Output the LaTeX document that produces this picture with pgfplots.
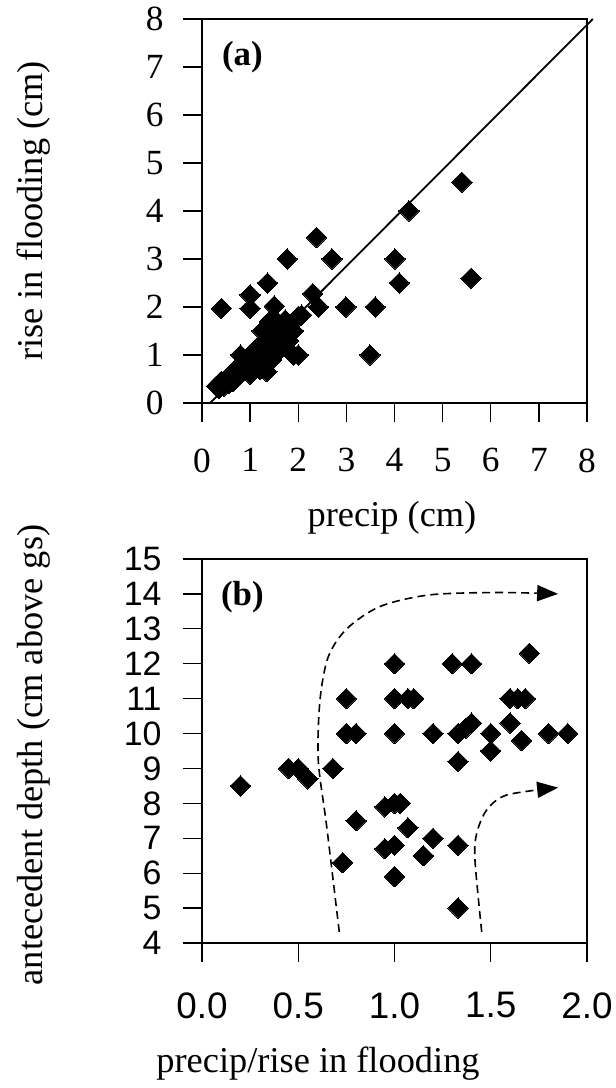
\documentclass[border=0pt]{standalone}
\usepackage{fontspec}
\setmainfont{Liberation Serif}
\newfontfamily\sansf{Liberation Sans}
\usepackage{pgfplots}
\pgfplotsset{compat=1.18}
\usetikzlibrary{arrows.meta}

\pgfplotsset{
  panel/.style={
    scale only axis, width=385bp, height=384bp,
    anchor=south west,
    axis line style={line width=2.4bp},
    tick style={line width=1.3bp, black},
    tick align=outside,
    major tick length=19bp,
    xtick pos=left, ytick pos=left,
    /pgf/number format/assume math mode=true,
    clip=false,
  },
  dmd/.style={only marks, mark=square*,
    mark options={rotate=45, fill=black, draw=black, line width=0pt}, mark size=7.2bp},
}

\begin{document}
\begin{tikzpicture}
\path[use as bounding box] (0,0) rectangle (616bp,1088bp);

% (a) rise in flooding vs precip
\begin{axis}[panel, at={(202bp,685bp)},
  xmin=0, xmax=8, ymin=0, ymax=8,
  xtick={0,...,8}, ytick={0,...,8},
  ticklabel style={font=\fontsize{35.5}{42}\selectfont},
  xticklabel style={yshift=-23bp},
  yticklabel style={xshift=-16bp},
]
\addplot[dmd] coordinates {
  (5.40,4.60) (4.30,4.0) (2.38,3.45) (1.77,3.0) (2.70,3.0) (4.01,3.0)
  (5.59,2.6) (4.10,2.5) (1.36,2.5) (1.0,2.25) (2.30,2.28) (0.40,1.97)
  (1.0,1.97) (1.50,2.02) (2.42,2.0) (2.99,2.0) (3.60,2.0) (3.49,1.0)
  (2.07,1.83) (1.73,1.73) (1.4,1.7) (2.0,1.0) (1.9,1.0)
  (0.3,0.35) (0.35,0.3) (0.4,0.45) (0.45,0.35) (0.5,0.5) (0.55,0.4)
  (0.6,0.6) (0.7,0.55) (0.75,0.7) (0.8,0.6) (0.8,0.8) (0.8,1.0)
  (0.9,0.7) (0.9,0.9) (1.0,0.6) (1.0,0.8) (1.0,1.0) (1.1,0.9)
  (1.1,1.1) (1.2,0.7) (1.2,1.0) (1.2,1.2) (1.3,0.8) (1.3,1.0)
  (1.3,1.3) (1.35,0.65) (1.4,1.1) (1.4,1.4) (1.5,1.0) (1.5,1.2)
  (1.5,1.5) (1.55,1.7) (1.6,1.1) (1.6,1.3) (1.7,1.2) (1.7,1.5)
  (1.8,1.3) (1.9,1.5) (2.0,1.8) (1.45,0.9) (1.1,0.7) (0.65,0.45)
  (1.25,1.5)
};
\addplot[no marks, line width=1.8bp] coordinates {(0.17,0) (8.12,8)};
\node[font=\fontsize{35}{42}\selectfont\bfseries] at (rel axis cs:0.105,0.9) {(a)};
\end{axis}

% (b) antecedent depth vs precip/rise
\begin{axis}[panel, at={(202bp,145bp)},
  xmin=0, xmax=2, ymin=4, ymax=15,
  xtick={0,0.5,...,2}, ytick={4,...,15},
  xticklabel style={font=\sansf\fontsize{37}{44}\selectfont, yshift=-27bp,
    /pgf/number format/.cd, fixed, fixed zerofill, precision=1},
  yticklabel style={font=\sansf\fontsize{34}{40}\selectfont, xshift=-18bp},
]
\addplot[dmd] coordinates {
  (0.2,8.5) (0.45,9.0) (0.5,9.0) (0.55,8.7) (0.68,9.0)
  (0.75,11) (0.75,10) (0.8,10) (0.8,7.5) (0.73,6.3)
  (1.0,12) (1.0,11) (1.07,11) (1.1,11) (1.0,10) (1.2,10)
  (1.3,12) (1.4,12) (1.33,10) (1.37,10.15) (1.4,10.3) (1.33,9.2)
  (1.5,10.0) (1.5,9.5) (1.6,10.3) (1.6,11) (1.64,11) (1.68,11)
  (1.7,12.3) (1.66,9.8) (1.8,10) (1.9,10)
  (0.95,7.9) (1.0,8.0) (1.03,8.0) (1.07,7.3) (1.2,7.0)
  (0.95,6.7) (1.0,6.8) (1.15,6.5) (1.33,6.8) (1.0,5.9) (1.33,5.0)
};
\addplot[smooth, no marks, line width=1.6bp, dash pattern=on 8bp off 5bp,
  -{Triangle[length=21bp,width=16bp]}] coordinates {
  (0.713,4.32) (0.648,7.33) (0.604,9.24) (0.613,10.96) (0.656,12.2)
  (0.752,13.0) (0.925,13.64) (1.18,13.97) (1.53,14.04) (1.85,14.0)
};
\addplot[smooth, no marks, line width=1.6bp, dash pattern=on 8bp off 5bp,
  -{Triangle[length=21bp,width=16bp]}] coordinates {
  (1.453,4.32) (1.418,6.38) (1.427,7.14) (1.479,7.81) (1.583,8.24) (1.85,8.45)
};
\node[font=\fontsize{35}{42}\selectfont\bfseries] at (rel axis cs:0.105,0.9) {(b)};
\end{axis}

% axis titles
\node[rotate=90, font=\fontsize{36.5}{44}\selectfont] at (34bp,877bp) {rise in flooding (cm)};
\node[font=\fontsize{36.5}{44}\selectfont] at (392bp,570bp) {precip (cm)};
\node[rotate=90, font=\fontsize{36.5}{44}\selectfont] at (34bp,333bp) {antecedent depth (cm above gs)};
\node[font=\fontsize{36.5}{44}\selectfont] at (318bp,24bp) {precip/rise in flooding};
\end{tikzpicture}
\end{document}
